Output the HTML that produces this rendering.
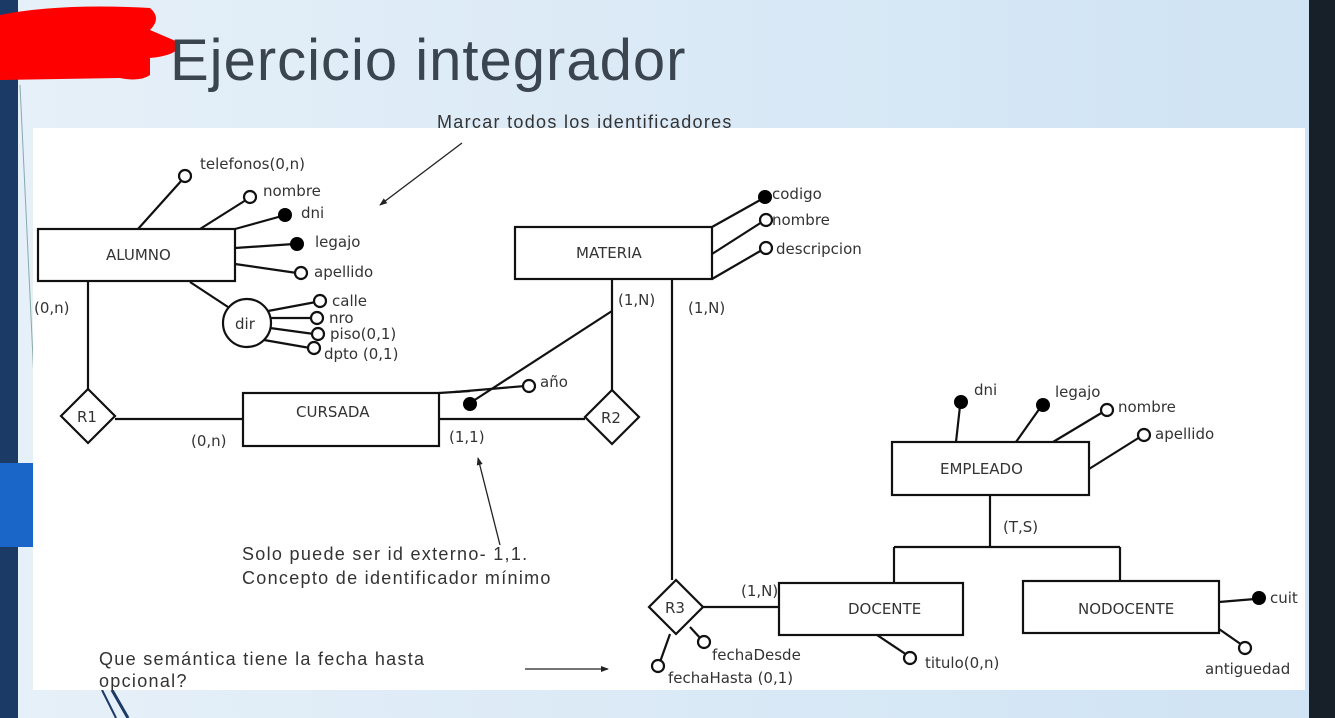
<!DOCTYPE html>
<html><head><meta charset="utf-8"><style>
html,body{margin:0;padding:0;width:1335px;height:718px;overflow:hidden;background:#d6e8f6}
svg{display:block}
</style></head><body>
<svg width="1335" height="718" viewBox="0 0 1335 718" xmlns="http://www.w3.org/2000/svg">
<defs>
<linearGradient id="bg" x1="0" y1="0" x2="1" y2="0">
<stop offset="0" stop-color="#e6f0f8"/><stop offset="1" stop-color="#cfe3f4"/>
</linearGradient>
<marker id="ah" markerWidth="8" markerHeight="8" refX="7" refY="4" orient="auto" markerUnits="userSpaceOnUse"><path d="M0,1 L8,4 L0,7 z" fill="#222"/></marker>
</defs>
<rect width="1335" height="718" fill="url(#bg)"/>
<rect x="0" y="0" width="18" height="718" fill="#1b3a66"/>
<rect x="0" y="463" width="33" height="84" fill="#1a66c8"/>
<rect x="1309" y="0" width="26" height="718" fill="#172028"/>
<line x1="20" y1="85" x2="34" y2="380" stroke="#8aa" stroke-width="1"/>
<line x1="112" y1="690" x2="128" y2="718" stroke="#1b3a66" stroke-width="3"/>
<line x1="102" y1="690" x2="116" y2="718" stroke="#1b3a66" stroke-width="2"/>
<!-- red scribble -->
<path d="M0,15 Q60,3 150,8 Q162,18 150,30 L178,42 Q182,55 150,58 L150,75 Q140,82 120,78 L0,80 Z" fill="#ff0000"/>
<text x="170" y="80" font-family="Liberation Sans, sans-serif" font-size="58" letter-spacing="1" fill="#3a4550">Ejercicio integrador</text>
<rect x="33" y="128" width="1272" height="562" fill="#ffffff"/>

<g font-family="Liberation Sans, sans-serif" font-size="18" letter-spacing="1.3" fill="#333" stroke="none">
<text x="437" y="128">Marcar todos los identificadores</text>
<text x="242" y="560">Solo puede ser id externo- 1,1.</text>
<text x="242" y="584">Concepto de identificador mínimo</text>
<text x="99" y="665">Que semántica tiene la fecha hasta</text>
<text x="99" y="687">opcional?</text>
</g>
<g stroke="#222" stroke-width="1.3" fill="none">
<line x1="462" y1="143" x2="380" y2="205" marker-end="url(#ah)"/>
<line x1="500" y1="545" x2="478" y2="458" marker-end="url(#ah)"/>
<line x1="525" y1="669" x2="608" y2="669" marker-end="url(#ah)"/>
</g>

<g stroke="#111" stroke-width="2.2" fill="none">
<rect x="38" y="229" width="197" height="52"/>
<rect x="515" y="227" width="197" height="52"/>
<rect x="243" y="393" width="196" height="53"/>
<rect x="892" y="442" width="197" height="53"/>
<rect x="779" y="583" width="184" height="52"/>
<rect x="1023" y="581" width="196" height="52"/>
<path d="M88,389 L115,416 L88,443 L61,416 Z" fill="#fff"/>
<path d="M612,390 L639,417 L612,444 L585,417 Z" fill="#fff"/>
<path d="M676,580 L703,607 L676,634 L649,607 Z" fill="#fff"/>
<circle cx="247" cy="323" r="24" fill="#fff"/>
<line x1="88" y1="281" x2="88" y2="389"/>
<line x1="115" y1="419" x2="243" y2="419"/>
<line x1="439" y1="419" x2="585" y2="419"/>
<line x1="612" y1="279" x2="612" y2="390"/>
<line x1="612" y1="311" x2="470" y2="403"/>
<line x1="439" y1="393" x2="470" y2="391"/>
<line x1="455" y1="392" x2="525" y2="386"/>
<line x1="672" y1="279" x2="672" y2="580"/>
<line x1="703" y1="607" x2="779" y2="607"/>
<line x1="990" y1="495" x2="990" y2="547"/>
<line x1="894" y1="547" x2="1120" y2="547"/>
<line x1="894" y1="547" x2="894" y2="583"/>
<line x1="1120" y1="547" x2="1120" y2="581"/>
<line x1="138" y1="229" x2="182" y2="180"/>
<line x1="200" y1="229" x2="246" y2="200"/>
<line x1="235" y1="229" x2="282" y2="216"/>
<line x1="235" y1="248" x2="294" y2="244"/>
<line x1="235" y1="264" x2="297" y2="273"/>
<line x1="190" y1="282" x2="228" y2="307"/>
<line x1="268" y1="311" x2="316" y2="302"/>
<line x1="270" y1="318" x2="313" y2="318"/>
<line x1="270" y1="328" x2="314" y2="334"/>
<line x1="264" y1="340" x2="310" y2="348"/>
<line x1="712" y1="227" x2="762" y2="199"/>
<line x1="712" y1="254" x2="762" y2="222"/>
<line x1="712" y1="279" x2="762" y2="250"/>
<line x1="956" y1="442" x2="960" y2="406"/>
<line x1="1016" y1="442" x2="1040" y2="408"/>
<line x1="1053" y1="442" x2="1103" y2="412"/>
<line x1="1089" y1="469" x2="1140" y2="437"/>
<line x1="1219" y1="602" x2="1255" y2="599"/>
<line x1="1219" y1="629" x2="1242" y2="645"/>
<line x1="877" y1="635" x2="907" y2="655"/>
<line x1="690" y1="627" x2="701" y2="639"/>
<line x1="670" y1="634" x2="660" y2="662"/>
</g>
<g stroke="#111" stroke-width="2.2" fill="#fff">
<circle cx="185" cy="176" r="6"/>
<circle cx="250" cy="197" r="6"/>
<circle cx="301" cy="273" r="6"/>
<circle cx="320" cy="301" r="6"/>
<circle cx="317" cy="318" r="6"/>
<circle cx="318" cy="334" r="6"/>
<circle cx="314" cy="348" r="6"/>
<circle cx="529" cy="386" r="6"/>
<circle cx="766" cy="220" r="6"/>
<circle cx="766" cy="248" r="6"/>
<circle cx="1107" cy="410" r="6"/>
<circle cx="1144" cy="435" r="6"/>
<circle cx="1245" cy="648" r="6"/>
<circle cx="910" cy="658" r="6"/>
<circle cx="704" cy="642" r="6"/>
<circle cx="658" cy="666" r="6"/>
</g>
<g fill="#000">
<circle cx="285" cy="215" r="7"/>
<circle cx="297" cy="244" r="7"/>
<circle cx="765" cy="197" r="7"/>
<circle cx="470" cy="404" r="7"/>
<circle cx="961" cy="402" r="7"/>
<circle cx="1043" cy="405" r="7"/>
<circle cx="1259" cy="598" r="7"/>
</g>
<g font-family="DejaVu Sans, sans-serif" font-size="15" fill="#333">
<text x="106" y="260">ALUMNO</text>
<text x="576" y="258">MATERIA</text>
<text x="296" y="417">CURSADA</text>
<text x="940" y="474">EMPLEADO</text>
<text x="848" y="614">DOCENTE</text>
<text x="1078" y="614">NODOCENTE</text>
<text x="77" y="422">R1</text>
<text x="601" y="423">R2</text>
<text x="665" y="613">R3</text>
<text x="235" y="329">dir</text>
<text x="200" y="169">telefonos(0,n)</text>
<text x="263" y="196">nombre</text>
<text x="301" y="218">dni</text>
<text x="315" y="247">legajo</text>
<text x="314" y="277">apellido</text>
<text x="332" y="306">calle</text>
<text x="329" y="323">nro</text>
<text x="330" y="339">piso(0,1)</text>
<text x="324" y="359">dpto (0,1)</text>
<text x="772" y="199">codigo</text>
<text x="772" y="225">nombre</text>
<text x="776" y="254">descripcion</text>
<text x="540" y="387">año</text>
<text x="974" y="395">dni</text>
<text x="1055" y="397">legajo</text>
<text x="1118" y="412">nombre</text>
<text x="1155" y="439">apellido</text>
<text x="1270" y="603">cuit</text>
<text x="1205" y="674">antiguedad</text>
<text x="925" y="668">titulo(0,n)</text>
<text x="712" y="660">fechaDesde</text>
<text x="668" y="683">fechaHasta (0,1)</text>
<text x="34" y="313">(0,n)</text>
<text x="191" y="446">(0,n)</text>
<text x="449" y="442">(1,1)</text>
<text x="618" y="305">(1,N)</text>
<text x="688" y="313">(1,N)</text>
<text x="741" y="596">(1,N)</text>
<text x="1003" y="532">(T,S)</text>
</g>
</svg>
</body></html>
